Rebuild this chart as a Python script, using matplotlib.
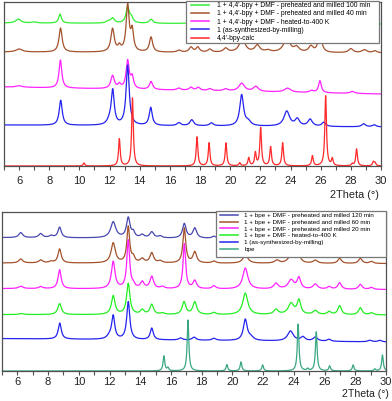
import numpy as np
import matplotlib
matplotlib.use("Agg")
import matplotlib.pyplot as plt
from matplotlib.patches import Rectangle

plt.rcParams['font.family'] = ['Liberation Sans', 'DejaVu Sans']

# ---------------- data ----------------
x = np.linspace(5, 30, 2501)

# Top panel series: labels, colors, baseline (left, right), peaks (pos, height, fwhm)
top_labels = [
    "1 + 4,4'-bpy + DMF - preheated and milled 100 min",
    "1 + 4,4'-bpy + DMF - preheated and milled 40 min",
    "1 + 4,4'-bpy + DMF - heated-to-400 K",
    "1 (as-synthesized-by-milling)",
    "4,4'-bpy-calc",
]
top_colors = ["#33ee33", "#a4522c", "#ff22ff", "#2424ee", "#ff2a2a"]
top_base = [(143, 142), (114, 113), (79, 72), (41, 39), (0, 0)]

green100_pos = [5.95, 7.0, 8.72, 11.9, 12.2, 13.2, 13.45, 14.75, 17.45, 17.85, 20.8, 21.8, 23.8, 25.95]
green100_h = [4, 1, 9, 2, 5, 16, 5, 4, 2, 2, 4, 2, 3, 4]
green100_w = [0.4, 0.4, 0.22, 0.3, 0.28, 0.26, 0.25, 0.28, 0.3, 0.3, 0.4, 0.3, 0.4, 0.3]

brown40_pos = [6.0, 8.75, 12.2, 12.65, 13.2, 13.5, 14.75, 16.6, 17.4, 17.85, 18.65, 19.7,
               20.8, 21.8, 22.5, 23.75, 24.4, 25.35, 25.95, 28.0, 28.9, 29.6]
brown40_h = [3, 24, 23, 5, 46, 20, 15, 2, 5, 5, 3, 4, 14, 7, 2, 14, 5, 6, 22, 4, 3, 2]
brown40_w = [0.5, 0.25, 0.27, 0.22, 0.24, 0.22, 0.25, 0.3, 0.28, 0.28, 0.3, 0.35,
             0.45, 0.4, 0.4, 0.5, 0.4, 0.35, 0.26, 0.35, 0.4, 0.3]

mag400_pos = [6.0, 8.74, 12.2, 12.65, 13.2, 13.5, 14.75, 16.6, 17.4, 17.88, 18.65, 19.7,
              20.76, 21.7, 23.8, 25.4, 25.95, 28.1]
mag400_h = [1.5, 28, 13, 4, 28, 11, 8, 2, 3, 3, 2, 2, 8, 5, 4, 2, 12, 2]
mag400_w = [0.5, 0.22, 0.28, 0.22, 0.25, 0.22, 0.25, 0.3, 0.28, 0.28, 0.3, 0.35,
            0.45, 0.4, 0.5, 0.3, 0.22, 0.35]

blue_pos = [8.76, 12.0, 12.21, 13.2, 14.73, 16.6, 17.45, 18.75, 20.76, 21.2, 23.75, 24.45,
            25.3, 26.2, 28.85, 29.55]
blue_h = [25, 4, 34, 60, 18, 3, 6, 3, 31, 4, 15, 7, 7, 4, 3, 2]
blue_w = [0.24, 0.4, 0.24, 0.25, 0.24, 0.3, 0.3, 0.3, 0.3, 0.4, 0.45, 0.35, 0.35, 0.3, 0.3, 0.3]

calc_pos = [10.3, 12.65, 13.52, 17.8, 18.6, 19.72, 20.63, 21.23, 21.67, 22.02, 22.68, 23.48,
            25.45, 26.33, 26.77, 28.1, 28.38, 29.49, 29.6]
calc_h = [3, 27, 68, 29, 23, 23, 3, 8, 13, 38, 19, 23, 10, 70, 7, 2, 17, 4, 3]
calc_w = [0.13] * len(calc_pos)

top_peaks = [
    (green100_pos, green100_h, green100_w),
    (brown40_pos, brown40_h, brown40_w),
    (mag400_pos, mag400_h, mag400_w),
    (blue_pos, blue_h, blue_w),
    (calc_pos, calc_h, calc_w),
]

# Bottom panel series
bot_labels = [
    "1 + bpe + DMF - preheated and milled 120 min",
    "1 + bpe + DMF - preheated and milled 60 min",
    "1 + bpe + DMF - preheated and milled 20 min",
    "1 + bpe + DMF - heated-to-400 K",
    "1 (as-synthesized-by-milling)",
    "bpe",
]
bot_colors = ["#4848b0", "#a4522c", "#ff22ff", "#22ee22", "#2424ee", "#3aa882"]
bot_base = [(133.4, 131.7), (108, 107.4), (82.4, 81.4), (56.4, 56), (32.4, 29), (0, 0)]

s120_pos = [6.22, 7.52, 8.2, 8.75, 12.24, 13.22, 13.55, 14.13, 14.75, 15.3, 16.87, 17.55,
            18.8, 20.85, 22.9, 23.8, 24.3, 25.4, 27.0, 28.33, 29.05]
s120_h = [5, 4, 2, 10.5, 16, 20, 5, 3, 6, 2, 14.5, 10, 2, 8, 3, 5, 6, 3, 4, 4, 2]
s120_w = [0.3, 0.3, 0.3, 0.26, 0.4, 0.28, 0.22, 0.3, 0.3, 0.3, 0.28, 0.3,
          0.3, 0.4, 0.35, 0.45, 0.35, 0.35, 0.3, 0.3, 0.3]

s60_pos = [6.22, 7.52, 8.2, 8.75, 12.24, 13.22, 13.55, 14.13, 14.75, 15.3, 16.87, 17.55,
           18.8, 20.85, 22.9, 23.8, 24.3, 25.4, 26.98, 28.33, 29.05]
s60_h = [4, 3, 1.5, 14, 20, 36, 5, 4, 10, 2, 35, 11, 2, 8, 3, 7, 8, 3, 5, 5, 2]
s60_w = [0.3, 0.3, 0.3, 0.25, 0.33, 0.22, 0.22, 0.3, 0.28, 0.3, 0.22, 0.28,
         0.3, 0.4, 0.35, 0.45, 0.35, 0.35, 0.28, 0.28, 0.3]

s20_pos = [6.22, 7.52, 8.75, 12.24, 13.22, 13.55, 14.13, 14.75, 15.45, 16.87, 17.55, 18.8,
           20.84, 22.84, 23.82, 24.33, 25.4, 26.3, 26.98, 28.33, 29.05]
s20_h = [2.3, 2, 19, 27, 48, 3, 6.5, 12, 2, 45, 8, 3, 21, 5.5, 9, 11, 5, 2.5, 6.5, 5, 2]
s20_w = [0.35, 0.3, 0.24, 0.28, 0.22, 0.22, 0.28, 0.28, 0.3, 0.2, 0.28, 0.3,
         0.4, 0.35, 0.45, 0.28, 0.35, 0.3, 0.28, 0.28, 0.3]

g400_pos = [6.25, 8.75, 12.24, 13.22, 14.13, 14.75, 15.45, 16.85, 17.55, 18.8, 20.84,
            22.84, 23.82, 24.33, 25.4, 26.3, 26.98, 28.33, 29.05]
g400_h = [1, 11, 18.6, 31, 4.5, 10, 1.5, 12.6, 12.6, 2, 21.6, 5, 11, 14, 4, 3, 9, 7, 2]
g400_w = [0.35, 0.28, 0.28, 0.26, 0.28, 0.28, 0.3, 0.28, 0.3, 0.3, 0.4,
          0.35, 0.45, 0.28, 0.35, 0.3, 0.28, 0.28, 0.3]

as_pos = [8.76, 12.0, 12.24, 13.22, 14.75, 16.63, 17.5, 18.8, 20.84, 21.2, 23.78, 24.59,
          25.4, 26.29, 28.94, 29.6]
as_h = [16, 3, 23, 37.6, 11.6, 2, 3, 2, 21, 3, 10, 4, 4, 2, 1.5, 1.5]
as_w = [0.24, 0.4, 0.24, 0.24, 0.24, 0.3, 0.3, 0.3, 0.3, 0.4, 0.45, 0.35, 0.35, 0.3, 0.3, 0.3]

bpe_pos = [15.54, 15.8, 17.11, 19.64, 20.56, 21.97, 24.28, 24.9, 25.46, 26.33, 27.86, 29.27, 29.77]
bpe_h = [15, 3, 51, 6.4, 9, 6, 46.7, 2, 39, 5, 6, 2, 16]
bpe_w = [0.13] * len(bpe_pos)

bot_peaks = [
    (s120_pos, s120_h, s120_w),
    (s60_pos, s60_h, s60_w),
    (s20_pos, s20_h, s20_w),
    (g400_pos, g400_h, g400_w),
    (as_pos, as_h, as_w),
    (bpe_pos, bpe_h, bpe_w),
]

xticks = [6, 8, 10, 12, 14, 16, 18, 20, 22, 24, 26, 28, 30]
xlabel = "2Theta (°)"


def profile(pos, h, w, base):
    b0, b1 = base
    y = b0 + (b1 - b0) * (x - 5) / 25.0
    for p, hh, ww in zip(pos, h, w):
        y = y + hh / (1 + ((x - p) / (ww / 2.0)) ** 2)
    return y


W, H = 392, 401
fig = plt.figure(figsize=(W / 100, H / 100), dpi=100)
frame_col = "#505050"
txt_col = "#222222"


def fx(px):
    return px / W


def fy(py):
    return 1 - py / H


def style_axes(ax, ylim, pad):
    ax.set_xlim(5, 30)
    ax.set_ylim(*ylim)
    ax.set_yticks([])
    ax.set_xticks(xticks)
    ax.set_xticks(np.arange(5, 31, 1), minor=True)
    ax.tick_params(axis='x', which='both', direction='out', length=2.9, width=0.8,
                   color=frame_col, labelsize=8, pad=pad, labelcolor=txt_col)
    for s in ax.spines.values():
        s.set_color(frame_col)
        s.set_linewidth(0.9)


def legend_box(ax, x0, y0, x1, y1):
    r = Rectangle((fx(x0), fy(y1)), fx(x1) - fx(x0), fy(y0) - fy(y1),
                  transform=fig.transFigure, facecolor="white", edgecolor="#777777",
                  linewidth=0.9, zorder=4.5, clip_on=False)
    ax.add_artist(r)


# ---- top panel ----
ax1 = fig.add_axes([fx(4), fy(166), 377 / W, 164 / H])
for lab, col, base, (p, h, w) in zip(top_labels, top_colors, top_base, top_peaks):
    ax1.plot(x, profile(p, h, w, base), color=col, lw=0.9, label=lab)
style_axes(ax1, (0, 164), 4.4)
legend_box(ax1, 186, 0.5, 379, 43)
leg1 = ax1.legend(loc='upper left', bbox_to_anchor=(fx(190.5), fy(2.2)),
                  bbox_transform=fig.transFigure, fontsize=4.85, frameon=False,
                  handlelength=2.82, handletextpad=1.04, borderpad=0,
                  labelspacing=0.175, borderaxespad=0)
for ln in leg1.get_lines():
    ln.set_linewidth(1.1)
fig.text(fx(379), fy(189.5), xlabel, ha='right', va='top', fontsize=7.8, color=txt_col)

# ---- bottom panel ----
ax2 = fig.add_axes([fx(2), fy(371), 384 / W, 159 / H])
for lab, col, base, (p, h, w) in zip(bot_labels, bot_colors, bot_base, bot_peaks):
    ax2.plot(x, profile(p, h, w, base), color=col, lw=0.9, label=lab)
style_axes(ax2, (0, 159), 1.7)
legend_box(ax2, 216, 211, 386, 257)
leg2 = ax2.legend(loc='upper left', bbox_to_anchor=(fx(219.5), fy(212.6)),
                  bbox_transform=fig.transFigure, fontsize=4.5, frameon=False,
                  handlelength=2.88, handletextpad=1.12, borderpad=0,
                  labelspacing=0.23, borderaxespad=0)
for ln in leg2.get_lines():
    ln.set_linewidth(1.1)
fig.text(fx(389), fy(389.3), xlabel, ha='right', va='top', fontsize=7.6, color=txt_col)

fig.savefig("out.png", dpi=100)
